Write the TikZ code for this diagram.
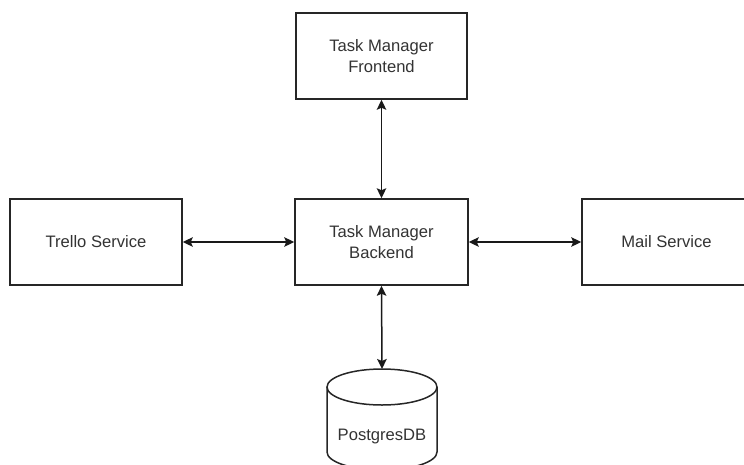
\documentclass[tikz,border=0pt]{standalone}
\usepackage{fontspec}
\setmainfont{Liberation Sans}
\usetikzlibrary{arrows.meta}
\definecolor{txt}{HTML}{333333}
\begin{document}
\begin{tikzpicture}[x=1pt,y=-1pt,
  box/.style={draw=black!85, line width=1.5pt, rectangle, minimum width=#1, minimum height=86pt, inner sep=0pt},
  box/.default=172pt,
  lbl/.style={text=txt, font=\fontsize{16.6}{21.5}\selectfont, align=center},
  conn/.style={line width=1.5pt, draw=black!90, {Stealth[length=10pt,width=9.5pt,inset=2pt]}-{Stealth[length=10pt,width=9.5pt,inset=2pt]}}]
\useasboundingbox (0,0) rectangle (744,464);
\begin{scope}
\clip (0,0) rectangle (744,464);
\node[box=171pt] (fe) at (381.5,56) {};
\node[lbl] at (fe.center) {Task Manager\\Frontend};
\node[box=173pt] (be) at (381.5,242) {};
\node[lbl] at (be.center) {Task Manager\\Backend};
\node[box=172pt] (tr) at (96,242) {};
\node[lbl] at (tr.center) {Trello Service};
\node[box=173pt] (ma) at (668.5,242) {};
\node[lbl] at (666.5,242) {Mail Service};
% cylinder
\coordinate (db) at (382,369);
\draw[line width=1.5pt, draw=black!85]
  (382,387) ellipse[x radius=55, y radius=18];
\draw[line width=1.5pt, draw=black!85]
  (327,387) -- (327,452) arc[start angle=180, end angle=0, x radius=55, y radius=18] -- (437,387);
\node[lbl] (dbl) at (382,437) {PostgresDB};
\draw[conn] (fe.south) -- (be.north);
\draw[conn] (tr.east) -- (be.west);
\draw[conn] (be.east) -- (ma.west);
\draw[conn] (be.south) -- (db);
\end{scope}
\end{tikzpicture}
\end{document}
